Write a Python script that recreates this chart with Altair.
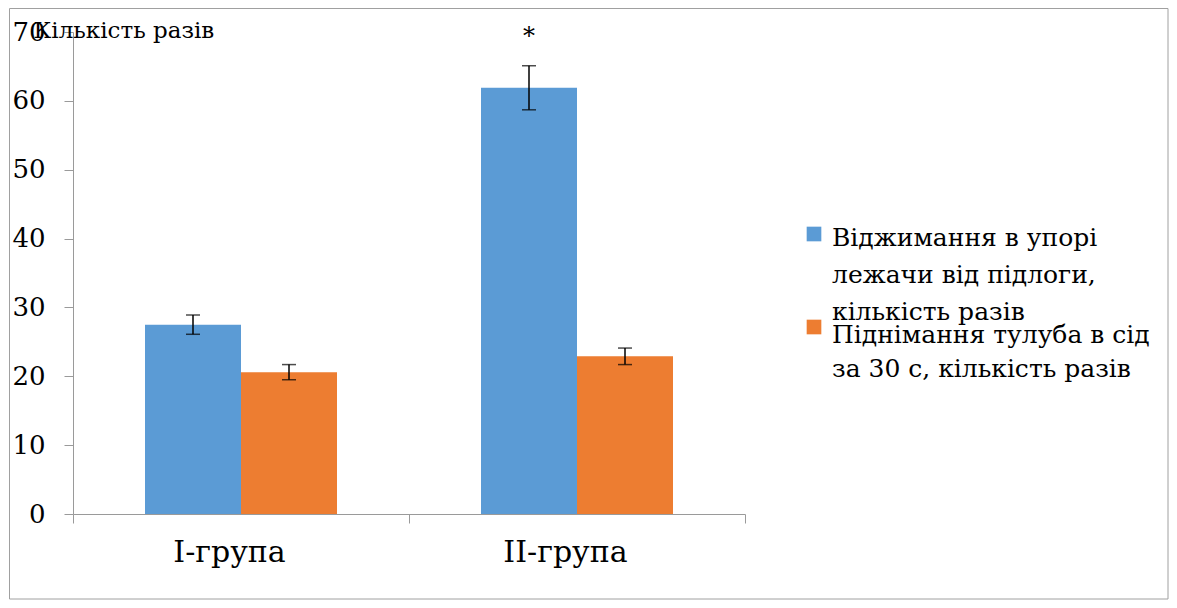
import altair as alt
import pandas as pd

# ---------------- data ----------------
groups = ["I-група", "II-група"]
series = [
    "Віджимання в упорі лежачи від підлоги, кількість разів",
    "Піднімання тулуба в сід за 30 с, кількість разів",
]
means_pushups = [27.5, 61.9]
err_pushups = [1.4, 3.2]
means_situps = [20.6, 22.9]
err_situps = [1.1, 1.2]
signif_pushups = ["", "*"]
signif_situps = ["", ""]
y_ticks = [0, 10, 20, 30, 40, 50, 60, 70]
y_title = "Кількість разів"
legend_lines = [
    ["Віджимання в упорі", "лежачи від підлоги,", "кількість разів"],
    ["Піднімання тулуба в сід", "за 30 с, кількість разів"],
]
colors = ["#5B9BD5", "#ED7D31"]

rows = []
for s, means, errs, sigs in [
    (series[0], means_pushups, err_pushups, signif_pushups),
    (series[1], means_situps, err_situps, signif_situps),
]:
    for g, m, e, sg in zip(groups, means, errs, sigs):
        rows.append({"group": g, "series": s, "mean": m,
                     "lo": m - e, "hi": m + e, "sig": sg})
df = pd.DataFrame(rows)

FONT = "DejaVu Serif"
GREY = "#9a9a9a"

x_axis = alt.Axis(title=None, tickBand="extent", labelAngle=0,
                  labelFontSize=30, labelFont=FONT, labelColor="black",
                  labelPadding=14, labelOffset=-12, tickSize=9,
                  domainColor=GREY, tickColor=GREY, labelBaseline="top")
y_axis = alt.Axis(values=y_ticks, title=y_title, titleAngle=0,
                  titleAlign="left", titleX=-40, titleY=5,
                  titleBaseline="alphabetic", titleFont=FONT,
                  titleFontSize=23, titleFontWeight="normal",
                  titleColor="black", labelFont=FONT, labelFontSize=26,
                  labelColor="black", labelPadding=19, tickSize=9,
                  domainColor=GREY, tickColor=GREY)
x_enc = alt.X("group:N", sort=groups,
              scale=alt.Scale(paddingInner=0, paddingOuter=0), axis=x_axis)
xo = alt.XOffset("series:N", sort=series,
                 scale=alt.Scale(paddingInner=0, paddingOuter=0.75))
y_scale = alt.Scale(domain=[0, 70], nice=False)

bars = alt.Chart(df).mark_bar().encode(
    x=x_enc,
    xOffset=xo,
    y=alt.Y("mean:Q", scale=y_scale, axis=y_axis),
    color=alt.Color("series:N", sort=series,
                    scale=alt.Scale(domain=series, range=colors), legend=None),
)

rules = alt.Chart(df).mark_rule(color="black", strokeWidth=1.5).encode(
    x=x_enc, xOffset=xo,
    y=alt.Y("lo:Q", scale=y_scale, axis=y_axis), y2="hi:Q",
)

caps = alt.Chart(df).transform_fold(["lo", "hi"], as_=["k", "v"]).mark_tick(
    orient="horizontal", size=14, thickness=1.5, color="black"
).encode(
    x=x_enc, xOffset=xo,
    y=alt.Y("v:Q", scale=y_scale, axis=y_axis),
)

stars = alt.Chart(df).transform_filter("datum.sig != ''").mark_text(
    font=FONT, fontSize=24, baseline="alphabetic", dy=-22, color="black"
).encode(
    x=x_enc, xOffset=xo,
    y=alt.Y("hi:Q", scale=y_scale, axis=y_axis),
    text="sig:N",
)

one = alt.Data(values=[{"a": 1}])
frame = alt.Chart(one).mark_rect(filled=False, stroke="#a0a0a0", strokeWidth=1).encode(
    x=alt.value(-63.5), x2=alt.value(1095), y=alt.value(-23.5), y2=alt.value(567)
)

legend_layers = []
sym_y = [202, 295]
txt_y = [213.7, 311]
line_h = [37, 34]
for lines, col, sy, ty, lh in zip(legend_lines, colors, sym_y, txt_y, line_h):
    legend_layers.append(
        alt.Chart(one).mark_square(size=215, color=col, opacity=1).encode(
            x=alt.value(741), y=alt.value(sy))
    )
    legend_layers.append(
        alt.Chart(one).mark_text(font=FONT, fontSize=25, align="left",
                                 baseline="alphabetic", lineHeight=lh,
                                 color="black").encode(
            x=alt.value(759), y=alt.value(ty), text=alt.value(lines))
    )

chart = alt.layer(bars, rules, caps, stars, frame, *legend_layers).properties(
    width=672, height=482,
    autosize=alt.AutoSizeParams(type="none"),
    padding={"left": 65, "top": 24, "right": 424, "bottom": 86},
).configure_view(stroke=None).configure_axis(grid=False)

chart.save("out.html", embed_options={"renderer": "svg", "actions": False})
